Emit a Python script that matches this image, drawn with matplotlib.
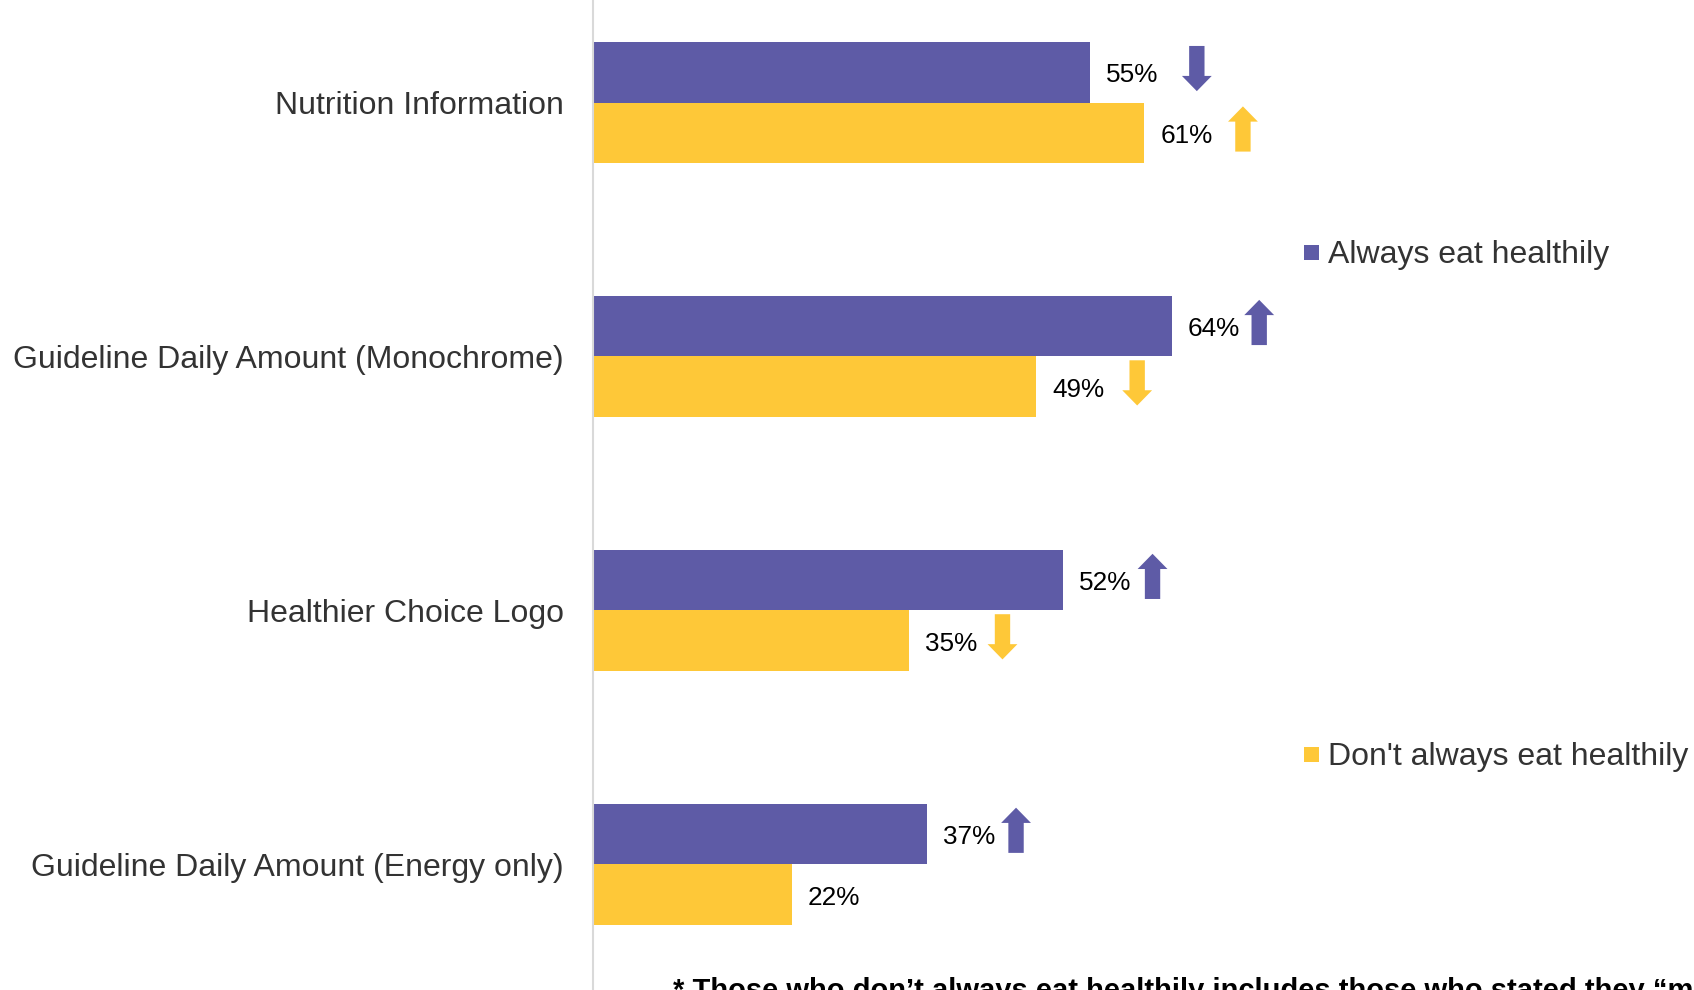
import matplotlib
matplotlib.use('Agg')
import matplotlib.pyplot as plt
from matplotlib.patches import Polygon, Rectangle
import numpy as np

# Share of each group that use the label type
categories = ['Nutrition Information', 'Guideline Daily Amount (Monochrome)',
              'Healthier Choice Logo', 'Guideline Daily Amount (Energy only)']
always_healthy = [55, 64, 52, 37]
not_always_healthy = [61, 49, 35, 22]

# Significance markers: 1 = higher, -1 = lower, 0 = none
always_sig = [-1, 1, 1, 1]
not_always_sig = [1, -1, -1, 0]

series_names = ['Always eat healthily', "Don't always eat healthily"]
footnote = ('* Those who don\u2019t always eat healthily includes those who stated they '
            '\u201cmostly\u201d eat healthily')

purple = '#5E5BA6'
yellow = '#FEC838'

# horizontal gap between bar end and arrow centre (in % units)
always_gap = [11.8, 9.7, 9.9, 9.8]
not_always_gap = [10.9, 11.2, 10.3, 10.5]

plt.rcParams['font.family'] = ['Liberation Sans', 'DejaVu Sans']

fig = plt.figure(figsize=(16.94, 9.90), dpi=100)
ax = fig.add_axes([593 / 1694, 0, 1 - 593 / 1694, 1])

y = np.arange(len(categories))
h = 0.238
ax.barh(y - h / 2, always_healthy, height=h, color=purple)
ax.barh(y + h / 2, not_always_healthy, height=h, color=yellow)

ax.set_xlim(0, 121.8)
ax.set_ylim(3.495, -0.404)


def draw_arrow(x, yc, direction, color):
    # block arrow: head 3.3 wide, shaft 1.7 wide, total 0.178 tall
    hw, sw = 1.65, 0.85
    tot, head = 0.178, 0.06
    top, bot = yc - tot / 2, yc + tot / 2
    if direction > 0:
        pts = [(x, top), (x + hw, top + head), (x + sw, top + head), (x + sw, bot),
               (x - sw, bot), (x - sw, top + head), (x - hw, top + head)]
    else:
        pts = [(x, bot), (x + hw, bot - head), (x + sw, bot - head), (x + sw, top),
               (x - sw, top), (x - sw, bot - head), (x - hw, bot - head)]
    ax.add_patch(Polygon(pts, closed=True, color=color, lw=0))


for vals, sigs, gaps, off, col in [(always_healthy, always_sig, always_gap, -h / 2, purple),
                                   (not_always_healthy, not_always_sig, not_always_gap, h / 2, yellow)]:
    for i, (v, s, g) in enumerate(zip(vals, sigs, gaps)):
        ax.annotate(f'{v}%', xy=(v, i + off), xytext=(16, -3), textcoords='offset pixels',
                    ha='left', va='center', fontsize=18.8, color='black')
        if s != 0:
            draw_arrow(v + g, i + off - 0.015, s, col)

ax.set_yticks(y)
ax.set_yticklabels(categories, fontsize=23, color='#333333')
ax.tick_params(axis='y', length=0, pad=21)
ax.set_xticks([])
for side in ['top', 'right', 'bottom']:
    ax.spines[side].set_visible(False)
ax.spines['left'].set_color('#D9D9D9')
ax.spines['left'].set_linewidth(1.5)

# Legend entries placed beside the chart
for name, col, ypix in [(series_names[0], purple, 252), (series_names[1], yellow, 754)]:
    fy = 1 - ypix / 990
    fig.add_artist(Rectangle((1304 / 1694, fy - 7.5 / 990), 15 / 1694, 15 / 990,
                             transform=fig.transFigure, color=col, lw=0))
    fig.text(1328 / 1694, fy - 3 / 990, name, ha='left', va='center', fontsize=23, color='#333333')

fig.text(673 / 1694, 1 - 977 / 990, footnote, ha='left', va='top',
         fontsize=21, fontweight='bold', color='black')

plt.savefig('out.png', dpi=100)
